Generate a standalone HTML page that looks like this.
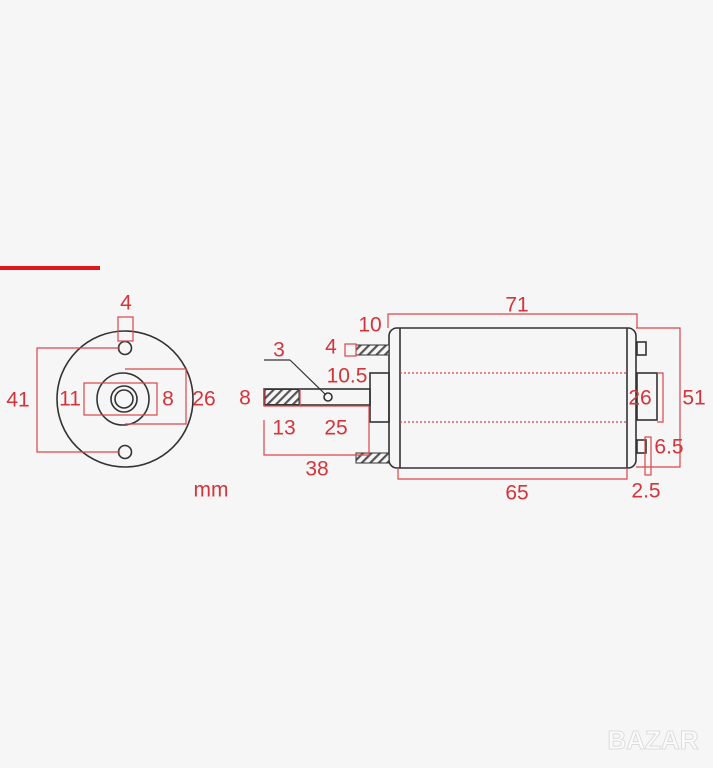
<!DOCTYPE html>
<html><head><meta charset="utf-8"><style>
html,body{margin:0;padding:0;background:#f6f6f6;}
svg{display:block}
text{font-family:"Liberation Sans",sans-serif;fill:#d2353b;font-size:21px;text-anchor:middle;dominant-baseline:central}
</style></head><body>
<svg width="713" height="768" viewBox="0 0 713 768" xmlns="http://www.w3.org/2000/svg">
<defs>
<pattern id="h" width="6" height="6" patternUnits="userSpaceOnUse" patternTransform="rotate(45)">
<rect width="6" height="6" fill="#f6f6f6"/><rect width="2.2" height="6" fill="#555"/>
</pattern>
</defs>
<rect x="0" y="266" width="100" height="4" fill="#e0161c"/>
<g fill="none" stroke="#333" stroke-width="1.6">
<circle cx="125" cy="399" r="68"/>
<circle cx="123" cy="399" r="26"/>
<circle cx="124" cy="399" r="13"/>
<circle cx="124" cy="399" r="9"/>
<circle cx="125" cy="348" r="6.5"/>
<circle cx="125" cy="452" r="6.5"/>
</g>
<g fill="none" stroke="#d9474c" stroke-width="1.2">
<path d="M120 348H37V452H120"/>
<rect x="118" y="317" width="15" height="24"/>
<rect x="84" y="383" width="73" height="32"/>
<path d="M125 369H186V424H125"/>
</g>
<text x="126" y="303">4</text>
<text x="18" y="400">41</text>
<text x="70" y="399">11</text>
<text x="168" y="399">8</text>
<text x="204" y="399">26</text>
<text x="211" y="490">mm</text>

<g fill="none" stroke="#333" stroke-width="1.6">
<rect x="389" y="328" width="247" height="140" rx="8"/>
<line x1="400" y1="328" x2="400" y2="468"/>
<line x1="627" y1="328" x2="627" y2="468"/>
<rect x="370" y="373" width="19" height="49"/>
<rect x="264" y="389" width="106" height="16"/>
<circle cx="328" cy="397" r="4"/>
<rect x="637" y="342" width="9" height="13"/>
<rect x="637" y="440" width="9" height="13"/>
<rect x="637" y="373" width="20" height="47"/>
</g>
<rect x="265" y="389.5" width="34" height="15" fill="url(#h)" stroke="#333" stroke-width="1"/>
<rect x="356" y="345" width="33" height="10" fill="url(#h)" stroke="#333" stroke-width="1"/>
<rect x="356" y="453" width="33" height="10" fill="url(#h)" stroke="#333" stroke-width="1"/>
<g stroke="#d9474c" stroke-width="1.3" stroke-dasharray="2 2">
<line x1="400" y1="373" x2="627" y2="373"/>
<line x1="400" y1="422" x2="627" y2="422"/>
</g>
<g fill="none" stroke="#d9474c" stroke-width="1.2">
<path d="M388 328V314H637V328"/>
<rect x="345" y="344" width="11" height="12"/>
<path d="M264 389V406H300V389"/>
<path d="M300 406H369"/>
<path d="M264 420V455H369V406"/>
<path d="M398 468V479H627V468"/>
<path d="M636 328H680V467H636"/>
<path d="M657 373H663V422H657"/>
<rect x="645" y="437" width="6" height="38"/>
</g>
<line x1="264" y1="360" x2="290" y2="360" stroke="#333" stroke-width="1.2"/>
<line x1="290" y1="360" x2="326" y2="395" stroke="#333" stroke-width="1.2"/>
<text x="517" y="305">71</text>
<text x="370" y="325">10</text>
<text x="331" y="347">4</text>
<text x="279" y="350">3</text>
<text x="347" y="376">10.5</text>
<text x="245" y="398">8</text>
<text x="284" y="428">13</text>
<text x="336" y="428">25</text>
<text x="317" y="469">38</text>
<text x="517" y="493">65</text>
<text x="640" y="398">26</text>
<text x="694" y="398">51</text>
<text x="669" y="447">6.5</text>
<text x="646" y="491">2.5</text>
<text x="653" y="740" style="font-size:26px;font-weight:bold;fill:#fbfbfb;stroke:#dcdcdc;stroke-width:1">BAZAR</text>
</svg>
</body></html>
